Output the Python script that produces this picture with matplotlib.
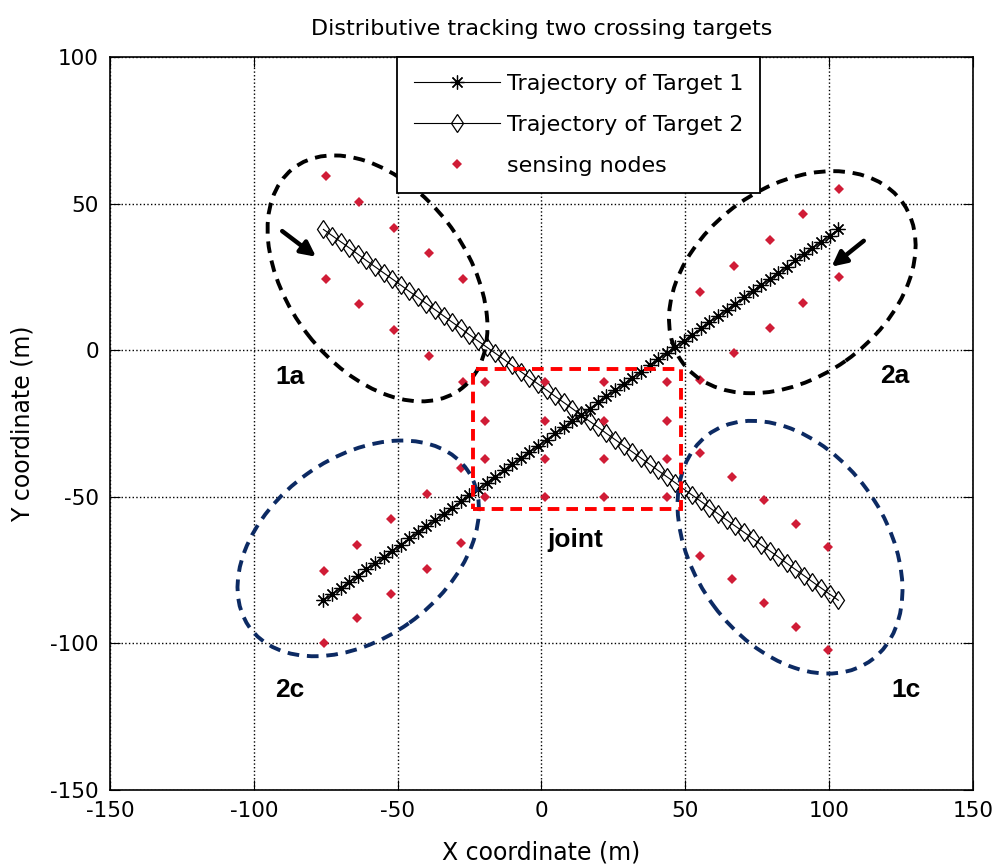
import matplotlib
matplotlib.use("Agg")
import matplotlib.pyplot as plt
from matplotlib.patches import Ellipse, Rectangle

plt.rcParams['font.family'] = ['DejaVu Sans']
plt.rcParams['axes.unicode_minus'] = False

# -------- DADOS --------- #

# trajetoria do alvo 1 (x crescente; o alvo anda de cima/direita para baixo/esquerda)
traj_x = [-75.8, -72.8, -69.8, -66.8, -63.9, -60.9, -57.9, -54.9, -51.9, -48.9,
          -46.0, -43.0, -40.0, -37.0, -34.0, -31.1, -28.1, -25.1, -22.1, -19.1,
          -16.1, -13.1, -10.2, -7.2, -4.2, -1.2, 1.8, 4.7, 7.7, 10.7,
          13.7, 16.7, 19.7, 22.6, 25.6, 28.6, 31.6, 34.6, 37.6, 40.5,
          43.5, 46.5, 49.5, 52.5, 55.5, 58.4, 61.4, 64.4, 67.4, 70.4,
          73.4, 76.3, 79.3, 82.3, 85.3, 88.3, 91.3, 94.2, 97.2, 100.2, 103.2]
alvo1_y = [-85.3, -83.2, -81.1, -79.0, -76.9, -74.8, -72.7, -70.5, -68.4, -66.3,
           -64.2, -62.1, -60.0, -57.9, -55.8, -53.7, -51.6, -49.5, -47.4, -45.2,
           -43.1, -41.0, -38.9, -36.8, -34.7, -32.6, -30.5, -28.4, -26.3, -24.2,
           -22.1, -19.9, -17.8, -15.7, -13.6, -11.5, -9.4, -7.3, -5.2, -3.1,
           -1.0, 1.1, 3.2, 5.3, 7.5, 9.6, 11.7, 13.8, 15.9, 18.0,
           20.1, 22.2, 24.3, 26.4, 28.5, 30.6, 32.8, 34.9, 37.0, 39.1, 41.2]
# alvo 2 e o espelho do alvo 1
alvo2_y = alvo1_y[::-1]

# nos sensores por regiao
nos_1a_x = [-74.9, -63.4, -51.2, -39.1, -27.4, -74.9, -63.4, -51.2, -39.1, -27.4]
nos_1a_y = [59.4, 50.6, 41.8, 33.1, 24.3, 24.3, 15.6, 6.8, -2.0, -10.8]
nos_2a_x = [103.5, 91.0, 79.5, 67.0, 55.2, 103.5, 91.0, 79.5, 67.0, 55.2]
nos_2a_y = [54.9, 46.3, 37.5, 28.6, 19.9, 25.0, 16.1, 7.6, -1.1, -10.0]
nos_jt_x = [-19.6, 1.2, 21.8, 43.5] * 4
nos_jt_y = [-11.0] * 4 + [-24.1] * 4 + [-37.2] * 4 + [-50.0] * 4
nos_2c_x = [-28.0, -39.9, -52.3, -64.3, -75.6, -28.0, -39.9, -52.3, -64.3, -75.6]
nos_2c_y = [-40.1, -48.9, -57.7, -66.5, -75.3, -65.7, -74.5, -83.2, -91.5, -100.0]
nos_1c_x = [55.1, 66.1, 77.5, 88.4, 99.7, 55.1, 66.1, 77.5, 88.4, 99.7]
nos_1c_y = [-34.9, -43.2, -51.2, -59.3, -67.1, -70.2, -78.2, -86.2, -94.4, -102.3]

nos_x = nos_1a_x + nos_2a_x + nos_jt_x + nos_2c_x + nos_1c_x
nos_y = nos_1a_y + nos_2a_y + nos_jt_y + nos_2c_y + nos_1c_y

# -------- GRAFICO --------- #

fig = plt.figure(figsize=(9.98, 8.68), dpi=100)
ax = fig.add_axes([0.1102, 0.0899, 0.8647, 0.8444])

ax.plot(traj_x, alvo1_y, color='black', lw=0.8, marker=(8, 2, 0), ms=10, mew=0.9,
        label='Trajectory of Target 1')
ax.plot(traj_x, alvo2_y, color='black', lw=0.8, marker='d', ms=9.5, mew=0.9,
        mfc='none', label='Trajectory of Target 2')
ax.plot(nos_x, nos_y, ls='none', marker='D', ms=5.2, mew=0, color='#d01c36',
        label='sensing nodes')

# elipses das regioes
azul = '#0c2a63'
elipses = [((-57.0, 24.5), 95.2, 61.8, -51.6, 'black'),
           ((87.2, 23.2), 94.0, 65.2, 34.7, 'black'),
           ((-63.7, -67.6), 92.8, 62.0, 35.0, azul),
           ((86.4, -67.2), 95.6, 66.4, -53.1, azul)]
for centro, w, h, ang, cor in elipses:
    ax.add_patch(Ellipse(centro, w, h, angle=ang, fill=False, edgecolor=cor,
                         lw=2.8, ls=(0, (3, 2)), zorder=4))

ax.add_patch(Rectangle((-23.8, -54.2), 72.3, 47.7, fill=False, edgecolor='red',
                       lw=2.8, ls=(0, (3, 1.8)), zorder=4))

# setas de direcao
seta = dict(arrowstyle='-|>', lw=3.2, color='black', mutation_scale=22)
ax.annotate('', xy=(-77.6, 31.3), xytext=(-90.9, 41.2), arrowprops=seta)
ax.annotate('', xy=(100.1, 27.9), xytext=(112.8, 37.9), arrowprops=seta)

rotulos = [(-87.3, -9.2, '1a'), (122.9, -8.9, '2a'), (-87.4, -116.0, '2c'),
           (126.7, -116.0, '1c'), (11.6, -64.8, 'joint')]
for tx, ty, s in rotulos:
    ax.text(tx, ty, s, fontsize=19, fontweight='bold', family='Liberation Sans',
            ha='center', va='center')

ax.set_xlim(-150, 150)
ax.set_ylim(-150, 100)
ax.set_xticks(range(-150, 151, 50))
ax.set_yticks(range(-150, 101, 50))
ax.tick_params(direction='in', top=True, right=True, length=7, labelsize=15.5, pad=8)
ax.grid(True, color='black', ls=':', lw=1.0)
for sp in ax.spines.values():
    sp.set_linewidth(1.2)

ax.set_title('Distributive tracking two crossing targets', fontsize=16, pad=16)
ax.set_xlabel('X coordinate (m)', fontsize=17, labelpad=14)
ax.set_ylabel('Y coordinate (m)', fontsize=17, labelpad=11)

leg = ax.legend(loc='upper left', bbox_to_anchor=(0.3326, 1.0), borderaxespad=0,
                fontsize=16, numpoints=1, handlelength=3.9, handletextpad=0.3,
                labelspacing=0.95, borderpad=0.75, fancybox=False, framealpha=1,
                edgecolor='black')
leg.get_frame().set_linewidth(1.3)

fig.savefig('out.png', dpi=100)
